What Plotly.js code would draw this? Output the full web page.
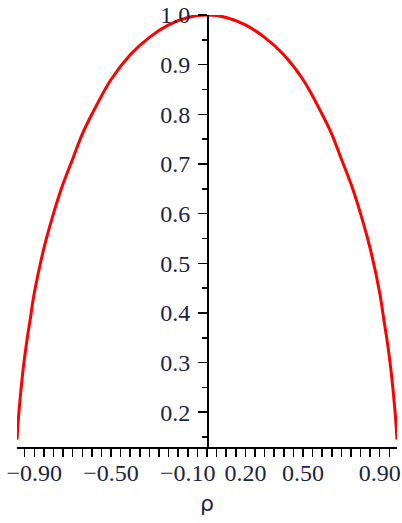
<!DOCTYPE html>
<html>
<head>
<meta charset="utf-8">
<script src="https://cdn.plot.ly/plotly-3.0.1.min.js"></script>
<style>
  html, body { margin: 0; padding: 0; background: #ffffff; }
  #chart { width: 402px; height: 523px; }
</style>
</head>
<body>
<div id="chart"></div>
<script>
// Curve samples: correlation rho against the plotted quantity
const rho = [-0.99, -0.98, -0.96, -0.94, -0.92, -0.90, -0.85, -0.80, -0.75, -0.70,
             -0.65, -0.60, -0.50, -0.40, -0.30, -0.20, -0.10, 0.00, 0.10, 0.20,
             0.30, 0.40, 0.50, 0.60, 0.65, 0.70, 0.75, 0.80, 0.85, 0.90,
             0.92, 0.94, 0.96, 0.98, 0.99];
const value = [0.145, 0.20, 0.28, 0.34, 0.39, 0.44, 0.53, 0.60, 0.66, 0.71,
               0.76, 0.80, 0.87, 0.92, 0.955, 0.98, 0.995, 1.00, 0.995, 0.98,
               0.955, 0.92, 0.87, 0.80, 0.76, 0.71, 0.66, 0.60, 0.53, 0.44,
               0.39, 0.34, 0.28, 0.20, 0.145];

// Labelled positions on the rho axis
const xTickVals = [-0.90, -0.50, -0.10, 0.20, 0.50, 0.90];
const xTickText = ['\u22120.90', '\u22120.50', '\u22120.10', '0.20', '0.50', '0.90'];

// Labelled positions on the vertical axis
const yTickVals = [0.2, 0.3, 0.4, 0.5, 0.6, 0.7, 0.8, 0.9, 1.0];
const yTickText = ['0.2', '0.3', '0.4', '0.5', '0.6', '0.7', '0.8', '0.9', '1.0'];

const labelFont = { family: '"Liberation Serif", "Times New Roman", serif', size: 24, color: '#1c2442' };

const trace = {
  x: rho,
  y: value,
  type: 'scatter',
  mode: 'lines',
  line: { color: '#ff0000', width: 3, shape: 'spline', smoothing: 1 },
  cliponaxis: false,
  hoverinfo: 'skip'
};

const layout = {
  width: 402,
  height: 523,
  margin: { l: 17, r: 5, t: 15, b: 76 },
  paper_bgcolor: '#ffffff',
  plot_bgcolor: '#ffffff',
  showlegend: false,
  xaxis: {
    range: [-0.99, 0.99],
    showgrid: false,
    zeroline: false,
    showline: true,
    linecolor: '#000000',
    linewidth: 1.5,
    ticks: 'outside',
    ticklen: 8,
    tickwidth: 1.5,
    tickcolor: '#000000',
    tickmode: 'array',
    tickvals: xTickVals,
    ticktext: xTickText,
    tickfont: labelFont,
    ticklabelstandoff: -4,
    minor: { dtick: 0.05, tick0: 0, ticks: 'outside', ticklen: 8, tickwidth: 1.5, tickcolor: '#000000', showgrid: false },
    title: { text: 'ρ', font: { family: '"DejaVu Sans", sans-serif', size: 22, color: '#1c2442' }, standoff: 10 }
  },
  yaxis: {
    range: [0.13, 1.0],
    anchor: 'free',
    position: 0.5,
    side: 'left',
    showgrid: false,
    zeroline: false,
    showline: true,
    linecolor: '#000000',
    linewidth: 1.5,
    ticks: 'outside',
    ticklen: 9,
    tickwidth: 1.5,
    tickcolor: '#000000',
    tickmode: 'array',
    tickvals: yTickVals,
    ticktext: yTickText,
    tickfont: labelFont,
    ticklabelstandoff: 3,
    minor: { dtick: 0.05, tick0: 0, ticks: 'outside', ticklen: 5, tickwidth: 1.5, tickcolor: '#000000', showgrid: false }
  }
};

Plotly.newPlot('chart', [trace], layout, { staticPlot: true, displayModeBar: false });
</script>
</body>
</html>
